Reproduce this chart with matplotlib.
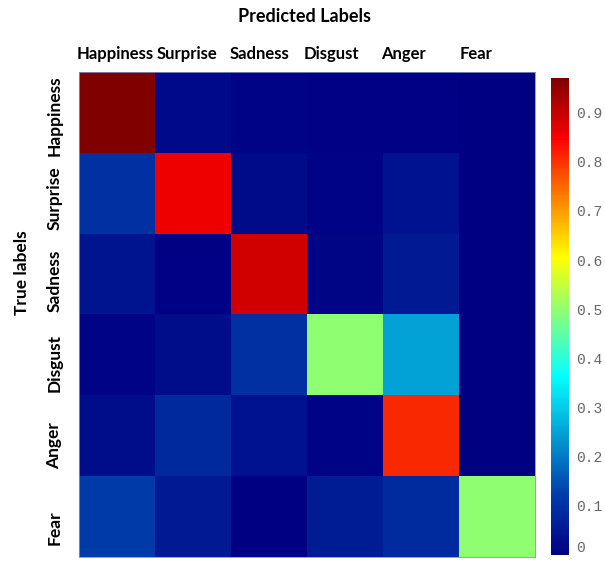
import numpy as np
import matplotlib
matplotlib.use("Agg")
import matplotlib.pyplot as plt
from matplotlib.colors import LinearSegmentedColormap

classes = ["Happiness", "Surprise", "Sadness", "Disgust", "Anger", "Fear"]

row_happiness = [0.97, 0.02, 0.01, 0.005, 0.005, 0.0]
row_surprise = [0.10, 0.86, 0.025, 0.01, 0.04, 0.0]
row_sadness = [0.045, 0.005, 0.89, 0.015, 0.055, 0.0]
row_disgust = [0.01, 0.03, 0.10, 0.50, 0.25, 0.0]
row_anger = [0.03, 0.085, 0.04, 0.01, 0.81, 0.0]
row_fear = [0.12, 0.055, 0.0, 0.06, 0.09, 0.50]

cbar_ticks = [0, 0.1, 0.2, 0.3, 0.4, 0.5, 0.6, 0.7, 0.8, 0.9]

matrix = np.array([row_happiness, row_surprise, row_sadness,
                   row_disgust, row_anger, row_fear])

# jet scale with a softer blue end
jet_stops = [(0.0, (0, 0, 131)), (0.125, (0, 60, 170)), (0.375, (5, 255, 255)),
             (0.625, (255, 255, 0)), (0.875, (250, 0, 0)), (1.0, (128, 0, 0))]
cmap = LinearSegmentedColormap.from_list(
    "jet_soft", [(p, tuple(c / 255 for c in rgb)) for p, rgb in jet_stops])

label_font = {"family": "Lato", "weight": "bold", "color": "black"}

fig = plt.figure(figsize=(6.05, 5.61), dpi=100)
ax = fig.add_axes([0.1306, 0.0071, 0.7537, 0.8645])
im = ax.imshow(matrix, cmap=cmap, vmin=0, vmax=matrix.max(),
               aspect="auto", interpolation="nearest")

n = len(classes)
ax.xaxis.tick_top()
ax.set_xticks(np.arange(n) * 0.95 - 0.03)
ax.set_xticklabels(classes, fontdict=label_font, fontsize=12)
ax.set_yticks(np.arange(n) * 1.02 + 0.04)
ax.set_yticklabels(classes, fontdict=label_font, fontsize=12.5,
                   rotation=90, va="center")
ax.tick_params(length=0)
ax.tick_params(axis="x", pad=7)
ax.tick_params(axis="y", pad=12)
ax.set_xlim(-0.5, n - 0.5)
ax.set_ylim(n - 0.5, -0.5)
for side in ax.spines.values():
    side.set_color("#8890b8")
    side.set_linewidth(0.6)

fig.text(0.503, 1 - 17 / 561, "Predicted Labels", ha="center", va="center",
         fontsize=13, **label_font)
fig.text(22 / 605, 1 - 273 / 561, "True labels", ha="center", va="center",
         rotation=90, fontsize=12.5, **label_font)

cax = fig.add_axes([0.9107, 0.0107, 0.0298, 0.850])
cb = fig.colorbar(im, cax=cax, ticks=cbar_ticks)
cb.outline.set_visible(False)
cb.ax.tick_params(length=0, pad=5)
cb_labels = cb.ax.set_yticklabels([f"{t:g}" for t in cbar_ticks],
                                  family="Liberation Mono", fontsize=10.5,
                                  color="#666666", va="center_baseline")
# keep the lowest label inside the figure
cb_labels[0].set_va("bottom")

fig.savefig("out.png", dpi=100)
